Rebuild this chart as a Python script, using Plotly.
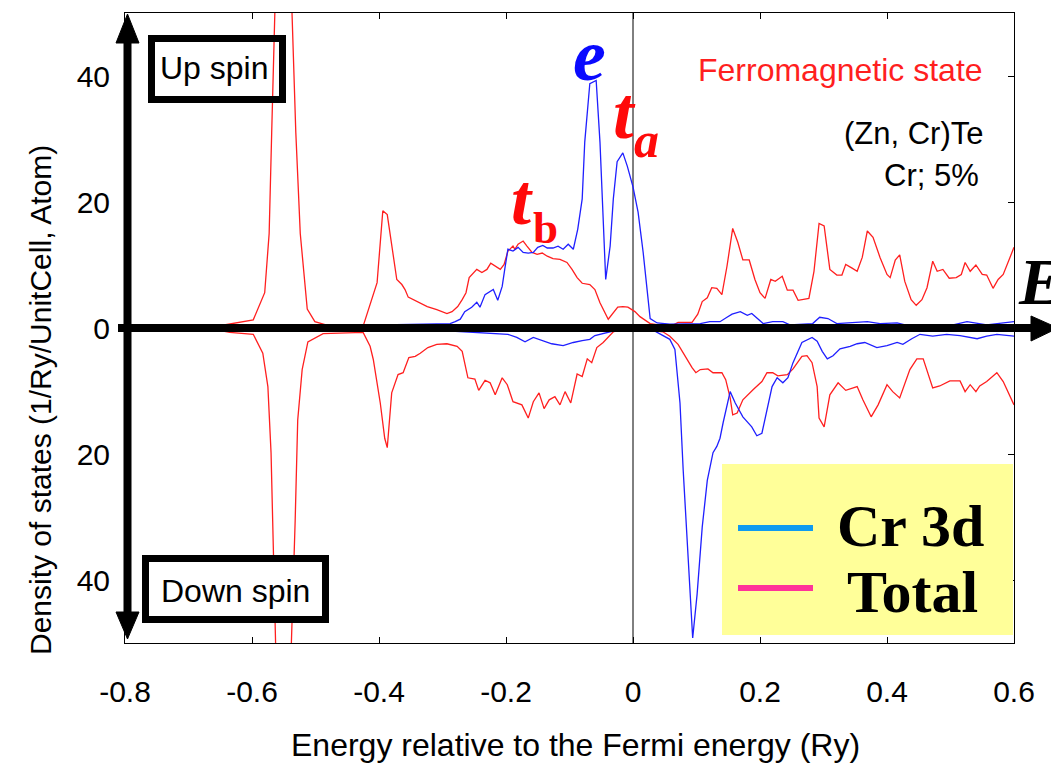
import plotly.graph_objects as go

# ---------------- data ----------------
e_total_up = [-0.80, -0.70, -0.66, -0.635, -0.598, -0.580, -0.573, -0.569, -0.565, -0.558, -0.551, -0.544, -0.537,
              -0.531, -0.524, -0.513, -0.501, -0.477, -0.425, -0.403, -0.394, -0.387, -0.380, -0.372, -0.364,
              -0.359, -0.354, -0.339, -0.324, -0.309, -0.293, -0.285, -0.276, -0.269, -0.263, -0.258, -0.249,
              -0.246, -0.238, -0.230, -0.224, -0.217, -0.209, -0.203, -0.197, -0.189, -0.186, -0.181, -0.173,
              -0.167, -0.159, -0.151, -0.143, -0.135, -0.126, -0.115, -0.104, -0.096, -0.088, -0.080, -0.068,
              -0.060, -0.052, -0.039, -0.031, -0.024, -0.016, -0.008, 0.003, 0.011, 0.027, 0.043, 0.058, 0.071,
              0.093, 0.102, 0.109, 0.117, 0.124, 0.132, 0.140, 0.148, 0.157, 0.165, 0.173, 0.183, 0.192, 0.200,
              0.208, 0.217, 0.224, 0.235, 0.243, 0.252, 0.260, 0.277, 0.285, 0.293, 0.301, 0.310, 0.321, 0.329,
              0.335, 0.345, 0.353, 0.361, 0.369, 0.378, 0.389, 0.400, 0.405, 0.413, 0.420, 0.428, 0.438, 0.446,
              0.455, 0.463, 0.472, 0.479, 0.488, 0.498, 0.509, 0.517, 0.523, 0.531, 0.540, 0.550, 0.557, 0.567,
              0.575, 0.583, 0.600]
dos_total_up = [0.0, 0.0, 0.2, 0.6, 1.3, 5.6, 15.0, 31.0, 50.0, 85.0, 100.0, 85.0, 50.0,
                31.0, 15.0, 3.0, 1.0, 0.3, 0.3, 7.2, 18.6, 18.0, 13.0, 7.7, 6.9,
                6.1, 4.9, 4.2, 3.4, 2.9, 2.3, 2.6, 3.4, 4.5, 5.6, 8.0, 9.0,
                9.3, 8.8, 9.3, 10.3, 9.8, 9.3, 10.1, 12.2, 13.0, 12.5, 13.3, 13.8,
                13.0, 12.0, 11.7, 11.9, 11.4, 11.0, 10.9, 10.4, 9.3, 8.0, 7.1, 6.9,
                6.1, 4.0, 1.4, 2.5, 3.3, 3.4, 3.3, 2.6, 1.8, 0.7, 0.4, 0.2, 0.9,
                0.9, 2.2, 4.2, 4.8, 6.4, 6.3, 5.3, 9.8, 15.8, 13.6, 10.8, 10.8, 7.7, 5.6,
                4.7, 7.7, 7.4, 8.2, 6.0, 6.0, 4.4, 4.7, 9.0, 16.6, 16.2, 9.3, 8.4, 8.4,
                10.1, 9.5, 9.0, 11.2, 15.4, 14.4, 11.2, 8.5, 8.0, 10.8, 11.6, 7.4, 4.5, 3.6,
                4.5, 6.4, 10.6, 9.0, 9.3, 7.9, 8.0, 8.5, 10.4, 9.0, 10.0, 8.5, 8.4, 6.3,
                7.7, 8.5, 12.8]

e_cr_up = [-0.80, -0.40, -0.394, -0.288, -0.280, -0.272, -0.265, -0.254, -0.246, -0.241, -0.233, -0.225,
           -0.220, -0.213, -0.206, -0.202, -0.197, -0.189, -0.181, -0.173, -0.165, -0.157, -0.150, -0.142,
           -0.135, -0.126, -0.118, -0.110, -0.102, -0.094, -0.087, -0.080, -0.076, -0.068, -0.058, -0.052,
           -0.047, -0.043, -0.036, -0.031, -0.025, -0.016, -0.009, 0.000, 0.008, 0.016, 0.027, 0.038, 0.058,
           0.106, 0.121, 0.137, 0.148, 0.156, 0.169, 0.180, 0.187, 0.205, 0.220, 0.236, 0.247, 0.283, 0.294,
           0.307, 0.321, 0.369, 0.389, 0.416, 0.436, 0.504, 0.526, 0.557, 0.600]
dos_cr_up = [0.0, 0.3, 0.5, 0.7, 1.0, 1.4, 2.6, 3.3, 4.1, 3.3, 5.3, 5.8,
             6.1, 4.4, 6.6, 9.3, 12.5, 12.2, 12.8, 12.0, 11.9, 12.0, 12.8, 13.1,
             12.7, 12.7, 13.0, 12.5, 13.3, 12.5, 15.7, 20.5, 29.5, 38.8, 39.3, 29.5,
             17.3, 7.7, 13.0, 20.5, 26.4, 27.8, 25.7, 22.4, 18.4, 12.0, 1.5, 0.8, 0.6,
             0.7, 1.0, 1.0, 1.7, 2.2, 2.6, 2.0, 2.3, 0.7, 1.0, 1.0, 0.5, 0.7, 1.7,
             1.5, 0.7, 1.0, 0.7, 0.8, 0.3, 0.5, 1.0, 0.5, 1.0]

e_total_dn = [-0.80, -0.66, -0.635, -0.598, -0.583, -0.575, -0.570, -0.567, -0.564, -0.558, -0.551, -0.544,
              -0.538, -0.532, -0.528, -0.521, -0.512, -0.488, -0.425, -0.414, -0.409, -0.398, -0.391, -0.387,
              -0.380, -0.370, -0.362, -0.353, -0.343, -0.335, -0.323, -0.309, -0.293, -0.277, -0.269, -0.260,
              -0.249, -0.243, -0.233, -0.225, -0.217, -0.206, -0.198, -0.189, -0.175, -0.165, -0.157, -0.148,
              -0.140, -0.132, -0.123, -0.115, -0.107, -0.098, -0.088, -0.080, -0.072, -0.065, -0.057, -0.047,
              -0.039, -0.031, -0.020, 0.019, 0.047, 0.058, 0.071, 0.082, 0.093, 0.099, 0.106, 0.118, 0.126,
              0.140, 0.146, 0.153, 0.157, 0.164, 0.173, 0.189, 0.203, 0.211, 0.220, 0.228, 0.243, 0.252, 0.266,
              0.274, 0.282, 0.290, 0.293, 0.301, 0.310, 0.323, 0.335, 0.353, 0.362, 0.375, 0.386, 0.400, 0.409,
              0.420, 0.436, 0.447, 0.457, 0.472, 0.483, 0.499, 0.515, 0.523, 0.531, 0.540, 0.546, 0.557, 0.573,
              0.583, 0.600]
dos_total_dn = [0.0, -0.2, -0.7, -1.0, -4.0, -9.3, -19.8, -35.8, -50.0, -85.0, -100.0, -85.0,
                -50.0, -30.5, -14.6, -6.6, -2.2, -0.9, -0.7, -2.9, -5.0, -11.9, -17.5, -19.0,
                -10.3, -7.4, -7.1, -4.7, -4.5, -4.0, -3.1, -2.6, -2.5, -2.9, -3.7, -7.9,
                -8.1, -9.9, -8.3, -8.7, -10.6, -7.9, -9.0, -11.7, -12.2, -14.3, -11.7, -10.3,
                -12.8, -11.4, -10.9, -12.2, -10.1, -11.9, -7.3, -7.7, -4.9, -5.5, -3.1, -2.3,
                -1.5, -0.6, -0.2, -0.2, -0.6, -1.3, -2.6, -4.5, -6.3, -7.1, -6.6, -6.5, -7.1,
                -7.1, -8.2, -11.1, -13.8, -13.5, -11.4, -9.8, -8.5, -7.1, -7.1, -7.6, -7.4, -6.5, -4.5,
                -4.4, -5.5, -9.3, -14.3, -15.7, -10.6, -8.7, -9.9, -9.3, -11.4, -14.1, -12.2, -9.0, -10.1,
                -11.1, -6.6, -4.9, -4.9, -9.5, -9.2, -8.4, -8.4, -10.1, -9.0, -10.1, -9.2, -8.5, -7.1,
                -8.5, -12.2]

e_cr_dn = [-0.80, -0.40, -0.30, -0.249, -0.220, -0.197, -0.183, -0.170, -0.157, -0.143, -0.128, -0.110,
           -0.094, -0.080, -0.068, -0.060, -0.041, -0.020, 0.031, 0.058, 0.066, 0.074, 0.079, 0.085, 0.091,
           0.094, 0.101, 0.109, 0.117, 0.126, 0.132, 0.137, 0.142, 0.153, 0.161, 0.173, 0.187, 0.195, 0.203,
           0.211, 0.219, 0.227, 0.236, 0.244, 0.252, 0.266, 0.282, 0.290, 0.298, 0.306, 0.315, 0.326, 0.342,
           0.353, 0.365, 0.384, 0.400, 0.416, 0.425, 0.439, 0.452, 0.472, 0.494, 0.515, 0.542, 0.557, 0.573,
           0.600]
dos_cr_dn = [0.0, -0.2, -0.4, -0.7, -0.9, -1.0, -1.5, -2.2, -1.5, -2.0, -2.5, -2.8,
             -2.3, -2.0, -1.8, -1.2, -0.7, -0.2, -0.3, -1.8, -3.4, -11.9, -22.5, -33.2, -43.7,
             -49.2, -42.2, -31.6, -24.2, -19.8, -18.8, -17.5, -15.0, -10.1, -11.9, -14.1, -15.7, -17.1, -16.7,
             -13.0, -9.3, -7.9, -8.7, -7.9, -5.5, -2.3, -1.5, -2.1, -3.7, -4.9, -4.4, -3.3, -2.9,
             -2.5, -2.3, -3.1, -2.8, -2.3, -2.6, -1.7, -1.0, -1.3, -1.0, -1.2, -1.7, -1.3, -1.0,
             -1.3]

x_ticks = [-0.8, -0.6, -0.4, -0.2, 0.0, 0.2, 0.4, 0.6]
x_ticktext = ["-0.8", "-0.6", "-0.4", "-0.2", "0", "0.2", "0.4", "0.6"]
y_ticks = [-40, -20, 0, 20, 40]
y_ticktext = ["40", "20", "0", "20", "40"]
series_names = ["Cr 3d", "Total"]

# ---------------- styling ----------------
WIN_W, WIN_H = 1059, 764
OFF = 8                     # page body margin of the html page
W, H = WIN_W - OFF, WIN_H - OFF
L, R, T, B = 125, 1014, 13, 643   # plot area in window pixels
SANS = "Liberation Sans, Arial, Helvetica, sans-serif"
SERIF = "Liberation Serif, Times New Roman, serif"
RED = "#ff1f1f"
BLUE = "#1f1fff"


def px(x):
    return (x - L) / (R - L)


def py(y):
    return (B - y) / (B - T)


fig = go.Figure()
for xs, ys, c, name in [(e_total_up, dos_total_up, RED, series_names[1]),
                        (e_total_dn, dos_total_dn, RED, series_names[1]),
                        (e_cr_up, dos_cr_up, BLUE, series_names[0]),
                        (e_cr_dn, dos_cr_dn, BLUE, series_names[0])]:
    fig.add_trace(go.Scatter(x=xs, y=ys, mode="lines", name=name, showlegend=False,
                             line=dict(color=c, width=1.3)))

shapes = []
# Fermi level line
shapes.append(dict(type="line", xref="x", yref="paper", x0=0, x1=0, y0=0, y1=1,
                   line=dict(color="black", width=1), layer="below"))
# thick horizontal arrow (energy axis)
shapes.append(dict(type="line", xref="paper", yref="paper", x0=px(118), x1=px(1036), y0=0.5, y1=0.5,
                   line=dict(color="black", width=8)))
shapes.append(dict(type="path", xref="paper", yref="paper",
                   path=f"M {px(1031)},{py(316)} L {px(1058)},{0.5} L {px(1031)},{py(341)} Z",
                   fillcolor="black", line=dict(color="black", width=1)))
# thick vertical double arrow
shapes.append(dict(type="line", xref="paper", yref="paper", x0=px(127.5), x1=px(127.5), y0=py(40), y1=py(615),
                   line=dict(color="black", width=8)))
shapes.append(dict(type="path", xref="paper", yref="paper",
                   path=f"M {px(116)},{py(43)} L {px(127.5)},{py(14)} L {px(139)},{py(43)} Z",
                   fillcolor="black", line=dict(color="black", width=1)))
shapes.append(dict(type="path", xref="paper", yref="paper",
                   path=f"M {px(116)},{py(612)} L {px(127.5)},{py(639)} L {px(139)},{py(612)} Z",
                   fillcolor="black", line=dict(color="black", width=1)))
# spin boxes
shapes.append(dict(type="rect", xref="paper", yref="paper", x0=px(151.5), x1=px(282.5), y0=py(38.5), y1=py(99.5),
                   line=dict(color="black", width=7)))
shapes.append(dict(type="rect", xref="paper", yref="paper", x0=px(145.5), x1=px(325.5), y0=py(558.5), y1=py(619.5),
                   line=dict(color="black", width=7), fillcolor="white"))
# legend box
shapes.append(dict(type="rect", xref="paper", yref="paper", x0=px(722), x1=px(1013), y0=py(464), y1=py(635),
                   line=dict(width=0), fillcolor="#ffff99"))
shapes.append(dict(type="line", xref="paper", yref="paper", x0=px(738), x1=px(813), y0=py(528), y1=py(528),
                   line=dict(color="#0f9bf0", width=6)))
shapes.append(dict(type="line", xref="paper", yref="paper", x0=px(738), x1=px(813), y0=py(588), y1=py(588),
                   line=dict(color="#ff3399", width=6)))


def ann(text, x, y, size, color="black", family=SANS, xanchor="center", angle=0):
    return dict(text=text, xref="paper", yref="paper", x=px(x), y=py(y), xanchor=xanchor, yanchor="middle",
                showarrow=False, textangle=angle, font=dict(size=size, color=color, family=family))


annotations = [
    ann("Up spin", 214, 68, 32),
    ann("Down spin", 235, 591, 32),
    ann("Ferromagnetic state", 840, 70, 32, color="#ff1f1f"),
    ann("(Zn, Cr)Te", 986, 134, 31, xanchor="right"),
    ann("Cr; 5%", 981, 176, 31, xanchor="right"),
    ann("<b><i>e</i></b>", 589, 55, 74, color="#0a0aff", family=SERIF),
    ann("<b><i>t</i></b>", 624, 113, 74, color="#ff0a0a", family=SERIF),
    ann("<b><i>a</i></b>", 646, 140, 50, color="#ff0a0a", family=SERIF),
    ann("<b><i>t</i></b>", 522, 200, 72, color="#ff0a0a", family=SERIF),
    ann("<b>b</b>", 545, 228, 45, color="#ff0a0a", family=SERIF),
    ann("<b><i>E</i></b>", 1016, 281, 66, family=SERIF, xanchor="left"),
    ann("<b>" + series_names[0] + "</b>", 835, 526, 60, family=SERIF, xanchor="left"),
    ann("<b>" + series_names[1] + "</b>", 845, 592, 60, family=SERIF, xanchor="left"),
    ann("Energy relative to the Fermi energy (Ry)", 575, 745, 32),
    ann("Density of states (1/Ry/UnitCell, Atom)", 40, 400, 30, angle=-90),
]

axis_common = dict(showgrid=False, zeroline=False, showline=True, mirror="ticks", linecolor="black",
                   linewidth=1, ticks="inside", ticklen=6, tickcolor="black", tickwidth=1,
                   tickfont=dict(family=SANS, size=30, color="black"), automargin=False)

fig.update_layout(
    template="none",
    width=W, height=H,
    margin=dict(l=L - OFF, r=WIN_W - R, t=T - OFF, b=WIN_H - B, pad=0),
    paper_bgcolor="white", plot_bgcolor="white",
    showlegend=False,
    xaxis=dict(range=[-0.8, 0.6], tickmode="array", tickvals=x_ticks, ticktext=x_ticktext,
               ticklabelstandoff=22, **axis_common),
    yaxis=dict(range=[-50, 50], tickmode="array", tickvals=y_ticks, ticktext=y_ticktext,
               ticklabelstandoff=8, **axis_common),
    shapes=shapes,
    annotations=annotations,
)

fig.write_html("out.html")
